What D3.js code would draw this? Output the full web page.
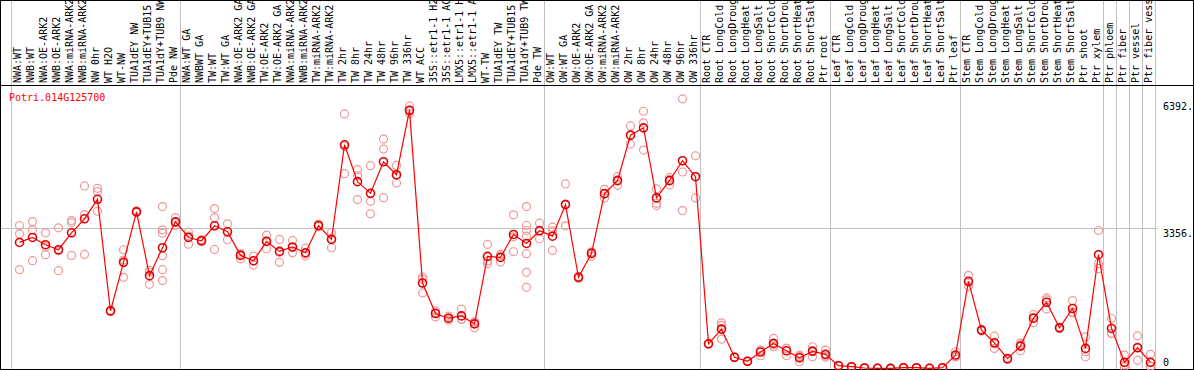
<!DOCTYPE html>
<html>
<head>
<meta charset="utf-8">
<script src="https://cdn.jsdelivr.net/npm/d3@7"></script>
<style>
	body { margin: 0; background: #fff; }
	svg { display: block; }
	text { font-family: "DejaVu Sans Mono", "Liberation Mono", monospace; font-size: 10px; }
</style>
</head>
<body>
<div id="chart-area"></div>
<script>

// Sample names along the top (cut at 14 characters, as in the picture)
var samples = [
	"NWA:WT", "NWB:WT", "NWA:OE-ARK2", "NWB:OE-ARK2", "NWA:miRNA-ARK2", "NWB:miRNA-ARK2",
	"NW 0hr", "WT H2O", "WT-NW", "TUA1dEY NW", "TUA1dEY+TUB15", "TUA1dY+TUB9 NW", "Pde NW",
	"NWA:WT GA", "NWBWT GA", "TW:WT", "TW:WT GA", "NWA:OE-ARK2 GA", "NWB:OE-ARK2 GA",
	"TW:OE-ARK2", "TW:OE-ARK2 GA", "NWA:miRNA-ARK2", "NWB:miRNA-ARK2", "TW:miRNA-ARK2",
	"TW:miRNA-ARK2", "TW 2hr", "TW 8hr", "TW 24hr", "TW 48hr", "TW 96hr", "TW 336hr",
	"WT ACC", "35S::etr1-1 H2", "35S::etr1-1 AC", "LMX5::etr1-1 H", "LMX5::etr1-1 A",
	"WT-TW", "TUA1dEY TW", "TUA1dEY+TUB15", "TUA1dY+TUB9 TW", "Pde TW",
	"OW:WT", "OW:WT GA", "OW:OE-ARK2", "OW:OE-ARK2 GA", "OW:miRNA-ARK2", "OW:miRNA-ARK2",
	"OW 2hr", "OW 8hr", "OW 24hr", "OW 48hr", "OW 96hr", "OW 336hr",
	"Root CTR", "Root LongCold", "Root LongDroug", "Root LongHeat", "Root LongSalt",
	"Root ShortCold", "Root ShortDrou", "Root ShortHeat", "Root ShortSalt", "Ptr root",
	"Leaf CTR", "Leaf LongCold", "Leaf LongDroug", "Leaf LongHeat", "Leaf LongSalt",
	"Leaf ShortCold", "Leaf ShortDrou", "Leaf ShortHeat", "Leaf ShortSalt", "Ptr leaf",
	"Stem CTR", "Stem LongCold", "Stem LongDroug", "Stem LongHeat", "Stem LongSalt",
	"Stem ShortCold", "Stem ShortDrou", "Stem ShortHeat", "Stem ShortSalt", "Ptr shoot",
	"Ptr xylem", "Ptr phloem", "Ptr fiber", "Ptr vessel", "Ptr fiber vess"
];

// Mean expression for each sample
var means = [
	3022, 3141, 2967, 2847, 3253, 3588, 4056, 1381, 2544, 3755, 2226, 2895, 3516,
	3141, 3062, 3421, 3277, 2711, 2584, 3045, 2807, 2914, 2776, 3428, 3093,
	5362, 4479, 4199, 4956, 4646, 6191, 2049, 1318, 1206, 1261, 1070,
	2687, 2663, 3213, 2998, 3301,
	3172, 3929, 2186, 2759, 4192, 4503, 5594, 5769, 4089, 4503, 4980, 4598,
	592, 944, 268, 172, 394, 602, 425, 258, 411, 339,
	67, 43, 12, 5, 2, 19, 19, 5, 19, 322,
	2090, 920, 616, 234, 537, 1206, 1588, 975, 1438, 482, 2728,
	960, 148, 497, 148
];

// Single replicates for each sample
var replicates = [
	[3428, 3229, 2370], [3523, 3325, 2584], [3253, 2728, 2920], [3373, 2346, 2822],
	[3547, 3499, 2711], [4376, 3690, 2735], [4319, 4240, 3769], [1397, 1373, 1361],
	[2847, 2186, 2599], [3780, 3740, 3745], [2353, 2018, 2307],
	[3881, 3325, 3244, 2704, 2370, 2107], [3619, 3428, 3501],
	[3268, 2981, 3174], [3090, 3040, 3056], [3834, 3612, 2854], [3468, 3086, 3277],
	[2752, 2632, 2749], [2694, 2479, 2579], [3196, 2871, 3068], [3093, 2544, 2784],
	[3069, 2776, 2897], [2885, 2694, 2749], [3460, 3400, 3424], [3260, 2895, 3124],
	[6103, 5322, 4670], [4765, 4622, 4049], [4861, 4008, 3707], [5499, 5260, 4096],
	[4868, 4448, 4622], [6294, 6110, 6169], [2193, 1811, 2143], [1381, 1237, 1336],
	[1158, 1206, 1254], [1421, 1175, 1187], [1118, 975, 1117],
	[2974, 2513, 2574], [2735, 2551, 2703], [3683, 2799, 3157],
	[3881, 3428, 3308, 3172, 2752, 2305, 1947], [3483, 3110, 3310],
	[3387, 2830, 3299], [4424, 3420, 3943], [2210, 2160, 2188], [2694, 2790, 2793],
	[4295, 4089, 4192], [4598, 4390, 4521], [5816, 5379, 5587], [6167, 5888, 5236],
	[4304, 3960, 3905], [4581, 4400, 4528], [6461, 4710, 3786], [5100, 4089, 4605],
	[600, 585, 591], [1094, 705, 1033], [280, 260, 264], [165, 180, 171],
	[306, 442, 434], [721, 521, 564], [306, 480, 489], [322, 162, 290],
	[521, 282, 430], [442, 300, 275],
	[75, 60, 66], [50, 38, 41], [15, 10, 11], [8, 3, 4], [2, 2, 2], [22, 17, 18],
	[22, 17, 18], [8, 3, 4], [22, 17, 18], [401, 290, 275],
	[2233, 1971, 2066], [940, 900, 920], [776, 482, 590], [250, 220, 232],
	[616, 425, 570], [1295, 1094, 1229], [1691, 1428, 1645], [990, 960, 975],
	[1629, 1330, 1355], [760, 282, 404], [3308, 2513, 2393],
	[1199, 841, 840], [322, 84, 38], [783, 196, 512], [339, 53, 52]
];

// Index of the last sample in each group (-1 is the left edge)
var groupEnds = [-1, 12, 40, 52, 62, 72, 83, 84, 85, 86, 87];

// Right-hand scale values
var tickValues = [6392, 3356, 0];
var tickLabels = ["6392.", "3356.", "0"];
var gridValues = [3356];

var geneName = "Potri.014G125700";


var width = 1194, height = 370;
var headerY = 85, frameBottom = 369;

var svg = d3.select("#chart-area")
	.append("svg")
		.attr("width", width)
		.attr("height", height);

// Position of each sample
var x = d3.scaleLinear()
	.domain([0, samples.length - 1])
	.range([19.5, 1150.5]);

// Expression scale
var y = d3.scaleLinear()
	.domain([0, 3356])
	.range([368.5, 228.5]);

// Group separators
svg.selectAll(".sep")
	.data(groupEnds)
	.enter().append("line")
		.attr("class", "sep")
		.attr("x1", function(d) { return x(d) + 5; })
		.attr("x2", function(d) { return x(d) + 5; })
		.attr("y1", 0)
		.attr("y2", frameBottom)
		.attr("stroke", "#c0c0c0")
		.attr("stroke-width", 1);

// Horizontal grid line
svg.selectAll(".grid")
	.data(gridValues)
	.enter().append("line")
		.attr("class", "grid")
		.attr("x1", 0)
		.attr("x2", 1158)
		.attr("y1", function(d) { return y(d); })
		.attr("y2", function(d) { return y(d); })
		.attr("stroke", "#c0c0c0")
		.attr("stroke-width", 1);

// Frame and header line
svg.append("rect")
	.attr("x", 0.5)
	.attr("y", 0.5)
	.attr("width", 1193)
	.attr("height", frameBottom)
	.attr("fill", "none")
	.attr("stroke", "#000");

svg.append("line")
	.attr("x1", 0).attr("x2", width)
	.attr("y1", headerY + 0.5).attr("y2", headerY + 0.5)
	.attr("stroke", "#000");

// Sample labels
svg.selectAll(".sample")
	.data(samples)
	.enter().append("text")
		.attr("class", "sample")
		.attr("transform", function(d, i) {
			return "translate(" + (x(i) + 1.5) + "," + (headerY - 2) + ") rotate(-90)";
		})
		.attr("fill", "#000")
		.text(function(d) { return d; });

// Gene name
svg.append("text")
	.attr("x", 9)
	.attr("y", 100.5)
	.attr("fill", "#ff0000")
	.text(geneName);

// Scale labels on the right
svg.selectAll(".tick")
	.data(tickValues)
	.enter().append("text")
		.attr("class", "tick")
		.attr("x", 1163)
		.attr("y", function(d) { return Math.min(y(d) + 8, 366); })
		.attr("fill", "#000")
		.text(function(d, i) { return tickLabels[i]; });

// Replicates
var repPoints = [];
replicates.forEach(function(list, i) {
	list.forEach(function(v) { repPoints.push({ i: i, v: v }); });
});

svg.selectAll(".rep")
	.data(repPoints)
	.enter().append("circle")
		.attr("class", "rep")
		.attr("cx", function(d) { return x(d.i); })
		.attr("cy", function(d) { return y(d.v); })
		.attr("r", 4)
		.attr("fill", "none")
		.attr("stroke", "#f09898")
		.attr("stroke-width", 1.2);

// Mean line
var line = d3.line()
	.x(function(d, i) { return x(i); })
	.y(function(d) { return y(d); });

svg.append("path")
	.datum(means)
	.attr("d", line)
	.attr("fill", "none")
	.attr("stroke", "#ff0000")
	.attr("stroke-width", 1.2);

svg.selectAll(".mean")
	.data(means)
	.enter().append("circle")
		.attr("class", "mean")
		.attr("cx", function(d, i) { return x(i); })
		.attr("cy", function(d) { return y(d); })
		.attr("r", 4)
		.attr("fill", "none")
		.attr("stroke", "#e00000")
		.attr("stroke-width", 1.6);

</script>
</body>
</html>
